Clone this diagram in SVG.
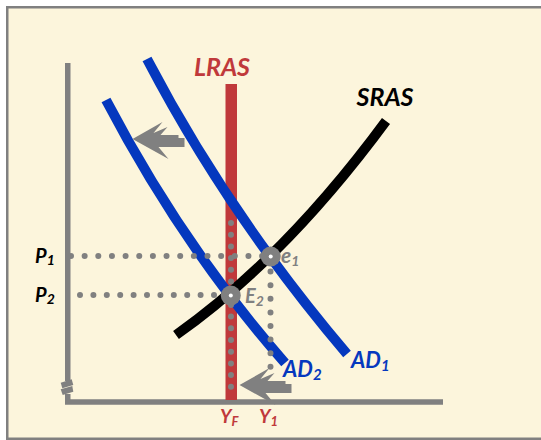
<svg xmlns="http://www.w3.org/2000/svg" width="541" height="440" viewBox="0 0 541 440">
<defs>
<style>
.lbl{font-family:Lato,"Liberation Sans",sans-serif;font-weight:bold;font-style:italic}
.dot{fill:none;stroke:#808080;stroke-width:6;stroke-linecap:round}
.ad{fill:none;stroke:#0538BE;stroke-width:10}
.axis{fill:none;stroke:#808080;stroke-width:5.5}
.eq{fill:#808080}
.arrow{fill:#808080}
</style>
<path id="shiftArrow" d="M0,0 L30,-17 L21,-6 L35,-12 L28,-4 L46,-4 L46,-1 L52,-1 L52,8 L26,8 L36,20 Z"/>
</defs>
<rect x="0" y="0" width="541" height="440" fill="#FFFFFF"/>
<rect id="frame" x="7.25" y="7.25" width="545" height="431.5" fill="#FCF5DC" stroke="#808080" stroke-width="2.5"/>
<g id="axes">
<path class="axis" d="M67.75,63 V381"/>
<path class="axis" d="M67.75,394 V402 H443"/>
<polygon fill="#808080" points="60.7,382.7 71.7,379.3 73.3,385 62.3,388.3"/>
<polygon fill="#808080" points="60.7,389.3 72.3,386 73.3,391.7 62.7,395"/>
</g>
<g id="LRAS">
<rect x="225.5" y="84" width="11.5" height="316" fill="#C0393B"/>
</g>
<g id="connectors">
<path id="AD1" class="ad" d="M147,59 Q228,214 347,354"/>
<path id="AD2" class="ad" d="M106,100 Q183,247 285,363"/>
<path id="SRAS" fill="none" stroke="#000" stroke-width="10" d="M176,335 Q285,258 386,121"/>
<path class="dot" stroke-dasharray="0 13.65" d="M71,256 H266"/>
<path class="dot" stroke-dasharray="0 13.4" d="M80,295 H226"/>
<path class="dot" stroke-dasharray="0 13.6" d="M270.5,258 V368"/>
<path class="dot" stroke-dasharray="0 11.7" d="M231,223 V398"/>
</g>
<g id="e1">
<circle class="eq" cx="270.7" cy="256.5" r="10"/>
<circle cx="270.7" cy="256.5" r="2" fill="#fff"/>
<text class="lbl" x="281" y="263" font-size="21" fill="#808080">e<tspan font-size="14" dy="3">1</tspan></text>
</g>
<g id="E2">
<circle class="eq" cx="230.8" cy="295.5" r="10"/>
<circle cx="230.8" cy="295.5" r="2" fill="#fff"/>
<text class="lbl" x="245" y="303" font-size="20" fill="#808080">E<tspan font-size="14" dy="3">2</tspan></text>
</g>
<g id="arrows">
<use href="#shiftArrow" class="arrow" transform="translate(132.5,139)"/>
<use href="#shiftArrow" class="arrow" transform="translate(239.5,385)"/>
</g>
<g id="labels">
<text class="lbl" x="222" y="76" font-size="25" fill="#C0393B" text-anchor="middle">LRAS</text>
<text class="lbl" x="385" y="106" font-size="25" fill="#000" text-anchor="middle">SRAS</text>
<text class="lbl" x="35" y="263" font-size="20" fill="#000">P<tspan font-size="14" dy="2">1</tspan></text>
<text class="lbl" x="35" y="302" font-size="20" fill="#000">P<tspan font-size="14" dy="2">2</tspan></text>
<text class="lbl" x="283" y="377" font-size="22" fill="#0538BE">AD<tspan font-size="15" dy="3">2</tspan></text>
<text class="lbl" x="351" y="368" font-size="22" fill="#0538BE">AD<tspan font-size="15" dy="3">1</tspan></text>
<text class="lbl" x="220" y="423" font-size="19" fill="#C0393B">Y<tspan font-size="13" dy="3">F</tspan></text>
<text class="lbl" x="259" y="423" font-size="19" fill="#C0393B">Y<tspan font-size="13" dy="3">1</tspan></text>
</g>
</svg>
